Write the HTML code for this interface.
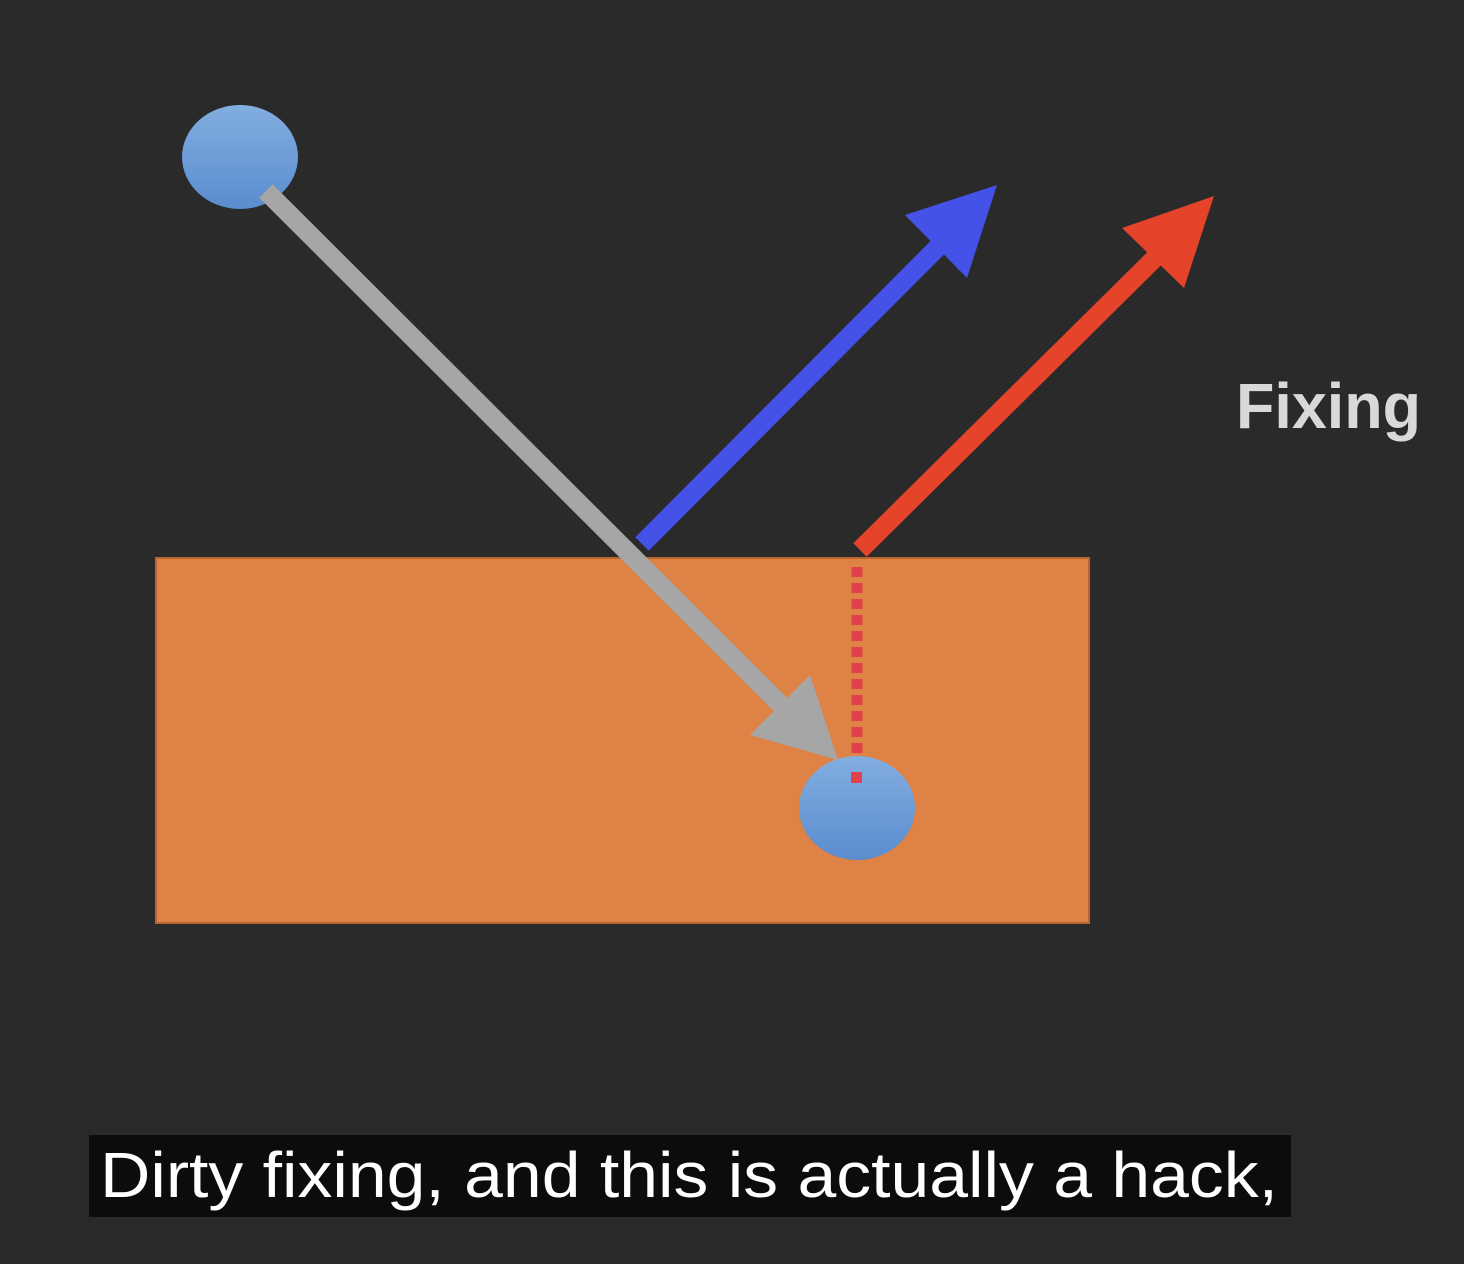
<!DOCTYPE html>
<html>
<head>
<meta charset="utf-8">
<style>
  html,body{margin:0;padding:0;background:#2a2a2a;}
  svg{display:block;}
</style>
</head>
<body>
<svg width="1464" height="1264" viewBox="0 0 1464 1264" xmlns="http://www.w3.org/2000/svg">
  <defs>
    <linearGradient id="ballGrad" x1="0" y1="0" x2="0" y2="1">
      <stop offset="0" stop-color="#82aee0"/>
      <stop offset="1" stop-color="#5a8ccf"/>
    </linearGradient>
  </defs>
  <rect x="0" y="0" width="1464" height="1264" fill="#2a2a2a"/>

  <rect x="156" y="558" width="933" height="365" fill="#de8245" stroke="#b8652f" stroke-width="2"/>

  <g>
    <line x1="642" y1="544" x2="945" y2="240" stroke="#4452e8" stroke-width="19"/>
    <polygon points="905,215 997,185 967,278" fill="#4452e8"/>
  </g>

  <g>
    <line x1="860" y1="550" x2="1163" y2="250" stroke="#e5432a" stroke-width="19"/>
    <polygon points="1122,228 1214,196 1184,288" fill="#e5432a"/>
  </g>

  <line x1="857" y1="567" x2="857" y2="786" stroke="#e2404a" stroke-width="11" stroke-dasharray="10,6"/>

  <ellipse cx="240" cy="157" rx="58" ry="52" fill="url(#ballGrad)"/>

  <g>
    <line x1="266" y1="191" x2="790" y2="714" stroke="#a6a6a6" stroke-width="19"/>
    <polygon points="750,735 810,675 838,760" fill="#a6a6a6"/>
  </g>

  <ellipse cx="857" cy="808" rx="58" ry="52" fill="url(#ballGrad)"/>
  <rect x="851" y="772" width="11" height="11" fill="#e2404a"/>

  <text x="1236" y="428" font-family="'Liberation Sans', sans-serif" font-size="64" font-weight="600" fill="#d9d9d9" textLength="185" lengthAdjust="spacingAndGlyphs">Fixing</text>

  <rect x="89" y="1135" width="1202" height="82" fill="#0c0c0c"/>
  <text x="100" y="1197" font-family="'Liberation Sans', sans-serif" font-size="64" fill="#ffffff" textLength="1178" lengthAdjust="spacingAndGlyphs">Dirty fixing, and this is actually a hack,</text>
</svg>
</body>
</html>
